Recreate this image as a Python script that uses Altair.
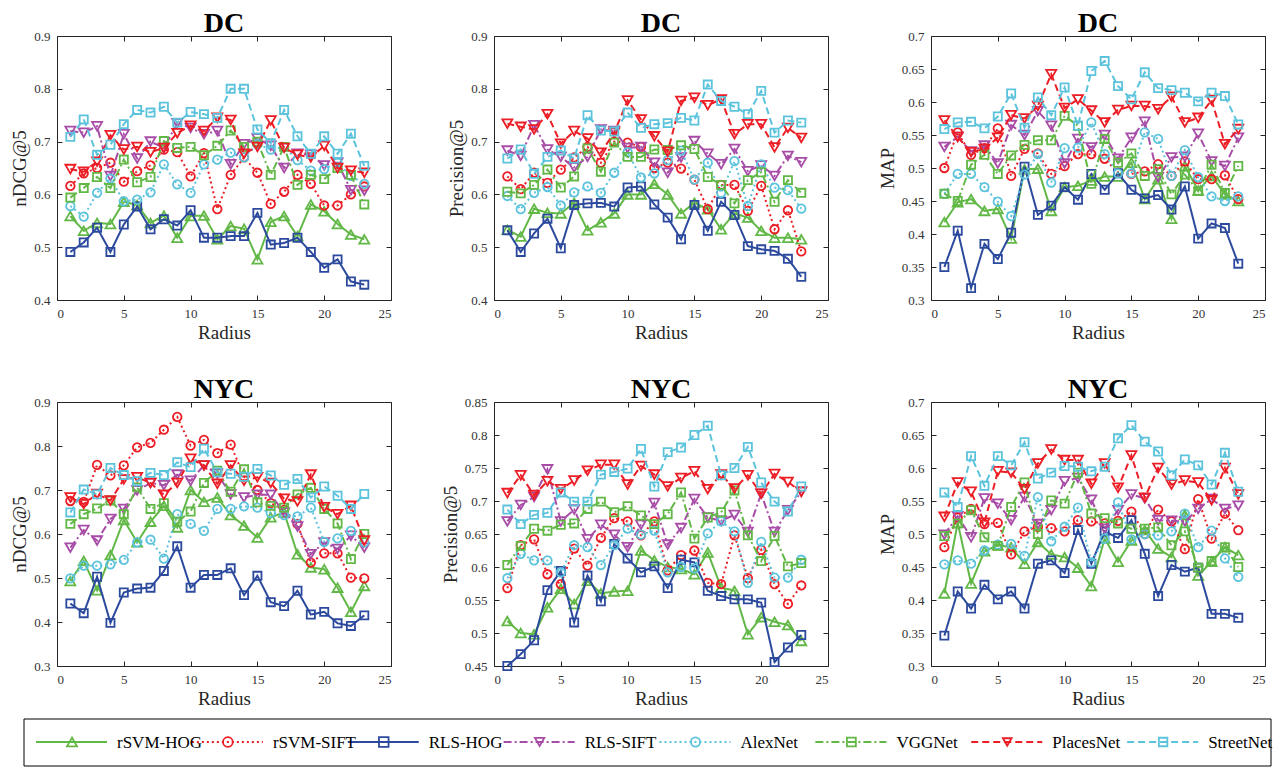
import altair as alt
import pandas as pd

RADIUS = list(range(1, 24))
SERIES = ["rSVM-HOG", "rSVM-SIFT", "RLS-HOG", "RLS-SIFT", "AlexNet", "VGGNet", "PlacesNet", "StreetNet"]
X_TICKS = [0, 5, 10, 15, 20, 25]
Y_TICKS_A = [0.4, 0.5, 0.6, 0.7, 0.8, 0.9]
Y_TICKS_MAP = [0.3, 0.35, 0.4, 0.45, 0.5, 0.55, 0.6, 0.65, 0.7]
Y_TICKS_NDCG_NYC = [0.3, 0.4, 0.5, 0.6, 0.7, 0.8, 0.9]
Y_TICKS_P_NYC = [0.45, 0.5, 0.55, 0.6, 0.65, 0.7, 0.75, 0.8, 0.85]

# ---- DC nDCG@5 ----
dc_ndcg_rsvm_hog = [0.559,0.531,0.546,0.544,0.586,0.58,0.546,0.56,0.518,0.559,0.56,0.515,0.54,0.535,0.477,0.548,0.559,0.521,0.581,0.568,0.544,0.524,0.515]
dc_ndcg_rsvm_sift = [0.616,0.64,0.65,0.66,0.624,0.644,0.655,0.685,0.68,0.634,0.678,0.572,0.637,0.67,0.641,0.582,0.605,0.637,0.62,0.579,0.579,0.6,0.615]
dc_ndcg_rls_hog = [0.491,0.509,0.537,0.491,0.543,0.577,0.534,0.553,0.541,0.57,0.518,0.518,0.521,0.521,0.565,0.505,0.508,0.518,0.491,0.461,0.477,0.435,0.429]
dc_ndcg_rls_sift = [0.72,0.717,0.729,0.635,0.714,0.668,0.7,0.688,0.735,0.726,0.714,0.72,0.657,0.695,0.706,0.692,0.65,0.677,0.675,0.655,0.66,0.608,0.607]
dc_ndcg_alexnet = [0.578,0.558,0.603,0.63,0.587,0.59,0.604,0.657,0.619,0.603,0.657,0.666,0.679,0.67,0.695,0.685,0.69,0.665,0.645,0.648,0.66,0.635,0.62]
dc_ndcg_vggnet = [0.594,0.612,0.633,0.612,0.666,0.623,0.633,0.701,0.688,0.69,0.674,0.692,0.721,0.69,0.7,0.637,0.69,0.618,0.637,0.629,0.65,0.637,0.581]
dc_ndcg_placesnet = [0.648,0.643,0.662,0.712,0.685,0.69,0.68,0.688,0.716,0.73,0.72,0.745,0.741,0.677,0.69,0.74,0.688,0.675,0.67,0.692,0.65,0.645,0.641]
dc_ndcg_streetnet = [0.709,0.742,0.675,0.694,0.733,0.76,0.755,0.766,0.736,0.756,0.752,0.745,0.8,0.8,0.723,0.697,0.76,0.71,0.677,0.71,0.677,0.715,0.654]

# ---- DC Precision@5 ----
dc_p_rsvm_hog = [0.533,0.52,0.573,0.565,0.564,0.584,0.532,0.547,0.564,0.6,0.6,0.62,0.6,0.564,0.584,0.572,0.534,0.564,0.556,0.531,0.518,0.518,0.515]
dc_p_rsvm_sift = [0.634,0.61,0.641,0.622,0.647,0.67,0.69,0.66,0.7,0.698,0.69,0.65,0.66,0.649,0.628,0.572,0.618,0.618,0.569,0.616,0.534,0.57,0.492]
dc_p_rls_hog = [0.532,0.491,0.526,0.554,0.498,0.58,0.583,0.584,0.577,0.613,0.615,0.581,0.556,0.515,0.58,0.531,0.586,0.561,0.502,0.496,0.493,0.478,0.444]
dc_p_rls_sift = [0.683,0.673,0.731,0.685,0.671,0.651,0.671,0.723,0.72,0.688,0.69,0.66,0.641,0.67,0.701,0.677,0.657,0.686,0.644,0.655,0.635,0.673,0.661]
dc_p_alexnet = [0.597,0.572,0.603,0.614,0.579,0.604,0.615,0.603,0.641,0.68,0.632,0.64,0.665,0.683,0.628,0.66,0.603,0.663,0.578,0.657,0.613,0.608,0.573]
dc_p_vggnet = [0.605,0.602,0.618,0.647,0.613,0.634,0.687,0.643,0.698,0.671,0.671,0.685,0.684,0.693,0.686,0.633,0.618,0.583,0.627,0.642,0.586,0.627,0.603]
dc_p_placesnet = [0.734,0.728,0.723,0.752,0.696,0.72,0.706,0.679,0.717,0.778,0.742,0.71,0.681,0.777,0.783,0.769,0.78,0.714,0.733,0.733,0.689,0.726,0.707]
dc_p_streetnet = [0.668,0.685,0.639,0.671,0.683,0.668,0.75,0.721,0.719,0.755,0.726,0.733,0.735,0.745,0.74,0.808,0.777,0.766,0.752,0.796,0.717,0.74,0.736]

# ---- DC MAP ----
dc_map_rsvm_hog = [0.418,0.448,0.453,0.435,0.438,0.393,0.498,0.499,0.435,0.471,0.473,0.481,0.487,0.487,0.508,0.453,0.483,0.423,0.503,0.466,0.488,0.46,0.45]
dc_map_rsvm_sift = [0.5,0.554,0.52,0.53,0.56,0.488,0.529,0.522,0.491,0.503,0.521,0.521,0.514,0.493,0.491,0.495,0.506,0.488,0.51,0.483,0.483,0.489,0.453]
dc_map_rls_hog = [0.35,0.405,0.318,0.385,0.362,0.402,0.502,0.429,0.443,0.471,0.452,0.491,0.467,0.492,0.467,0.454,0.459,0.437,0.472,0.393,0.416,0.409,0.355]
dc_map_rls_sift = [0.532,0.547,0.525,0.534,0.507,0.565,0.55,0.586,0.564,0.507,0.544,0.531,0.55,0.514,0.546,0.57,0.486,0.516,0.517,0.552,0.51,0.503,0.546]
dc_map_alexnet = [0.461,0.491,0.491,0.471,0.449,0.427,0.49,0.521,0.478,0.53,0.531,0.569,0.521,0.492,0.492,0.554,0.544,0.488,0.527,0.486,0.457,0.45,0.457]
dc_map_vggnet = [0.461,0.45,0.505,0.52,0.491,0.519,0.535,0.542,0.542,0.579,0.564,0.476,0.544,0.508,0.522,0.488,0.498,0.46,0.49,0.465,0.505,0.462,0.503]
dc_map_placesnet = [0.572,0.547,0.524,0.529,0.546,0.58,0.575,0.594,0.642,0.591,0.604,0.587,0.569,0.588,0.594,0.594,0.589,0.608,0.569,0.576,0.603,0.536,0.559]
dc_map_streetnet = [0.559,0.569,0.57,0.56,0.578,0.613,0.561,0.607,0.58,0.622,0.564,0.647,0.662,0.624,0.604,0.645,0.621,0.618,0.614,0.601,0.614,0.609,0.566]

# ---- NYC nDCG@5 ----
nyc_ndcg_rsvm_hog = [0.493,0.539,0.472,0.552,0.632,0.581,0.628,0.664,0.615,0.7,0.673,0.683,0.643,0.619,0.592,0.638,0.649,0.554,0.524,0.52,0.478,0.423,0.482]
nyc_ndcg_rsvm_sift = [0.675,0.673,0.757,0.733,0.756,0.797,0.807,0.837,0.866,0.801,0.814,0.784,0.803,0.73,0.7,0.67,0.655,0.623,0.535,0.556,0.556,0.501,0.499]
nyc_ndcg_rls_hog = [0.442,0.42,0.503,0.398,0.467,0.476,0.478,0.516,0.572,0.478,0.507,0.507,0.522,0.461,0.505,0.445,0.436,0.471,0.417,0.423,0.397,0.391,0.415]
nyc_ndcg_rls_sift = [0.569,0.609,0.585,0.634,0.657,0.699,0.716,0.711,0.735,0.721,0.756,0.737,0.69,0.683,0.689,0.689,0.649,0.617,0.554,0.581,0.566,0.596,0.569]
nyc_ndcg_alexnet = [0.499,0.528,0.528,0.531,0.541,0.581,0.587,0.544,0.645,0.623,0.607,0.657,0.657,0.663,0.66,0.648,0.643,0.64,0.66,0.582,0.59,0.607,0.581]
nyc_ndcg_vggnet = [0.623,0.645,0.658,0.676,0.645,0.706,0.657,0.67,0.628,0.651,0.716,0.744,0.696,0.747,0.672,0.664,0.66,0.69,0.705,0.657,0.624,0.543,0.6]
nyc_ndcg_placesnet = [0.683,0.668,0.691,0.676,0.724,0.729,0.716,0.689,0.716,0.771,0.756,0.714,0.756,0.721,0.729,0.716,0.68,0.674,0.735,0.661,0.645,0.664,0.585]
nyc_ndcg_streetnet = [0.649,0.701,0.69,0.75,0.734,0.72,0.739,0.734,0.763,0.752,0.794,0.74,0.737,0.73,0.748,0.733,0.712,0.725,0.683,0.708,0.687,0.657,0.691]

# ---- NYC Precision@5 ----
nyc_p_rsvm_hog = [0.518,0.5,0.498,0.539,0.567,0.544,0.579,0.56,0.563,0.564,0.625,0.61,0.6,0.597,0.589,0.622,0.569,0.564,0.498,0.524,0.517,0.512,0.488]
nyc_p_rsvm_sift = [0.568,0.633,0.642,0.589,0.574,0.628,0.602,0.644,0.674,0.669,0.648,0.669,0.595,0.618,0.625,0.576,0.574,0.648,0.583,0.626,0.574,0.544,0.572]
nyc_p_rls_hog = [0.45,0.468,0.489,0.565,0.594,0.516,0.587,0.548,0.635,0.613,0.592,0.601,0.568,0.611,0.607,0.564,0.556,0.551,0.551,0.546,0.456,0.478,0.497]
nyc_p_rls_sift = [0.669,0.694,0.706,0.748,0.669,0.687,0.642,0.664,0.649,0.63,0.664,0.697,0.634,0.659,0.703,0.675,0.67,0.679,0.653,0.711,0.653,0.686,0.714]
nyc_p_alexnet = [0.583,0.62,0.61,0.61,0.592,0.633,0.63,0.603,0.633,0.658,0.649,0.655,0.592,0.6,0.598,0.651,0.669,0.654,0.576,0.638,0.584,0.584,0.611]
nyc_p_vggnet = [0.603,0.632,0.658,0.655,0.664,0.666,0.688,0.699,0.683,0.692,0.678,0.665,0.68,0.713,0.643,0.675,0.683,0.716,0.648,0.609,0.647,0.601,0.606]
nyc_p_placesnet = [0.712,0.739,0.709,0.73,0.718,0.731,0.746,0.755,0.755,0.725,0.753,0.74,0.722,0.735,0.745,0.718,0.74,0.719,0.739,0.711,0.741,0.729,0.714]
nyc_p_streetnet = [0.687,0.665,0.679,0.682,0.713,0.699,0.699,0.74,0.744,0.749,0.779,0.722,0.774,0.781,0.8,0.814,0.739,0.75,0.782,0.728,0.699,0.684,0.722]

# ---- NYC MAP ----
nyc_map_rsvm_hog = [0.41,0.517,0.425,0.474,0.483,0.48,0.455,0.488,0.469,0.465,0.449,0.421,0.493,0.458,0.49,0.506,0.478,0.465,0.529,0.437,0.458,0.48,0.468]
nyc_map_rsvm_sift = [0.48,0.525,0.538,0.515,0.517,0.469,0.504,0.511,0.509,0.504,0.521,0.519,0.516,0.52,0.534,0.5,0.537,0.519,0.477,0.553,0.493,0.531,0.506]
nyc_map_rls_hog = [0.346,0.413,0.387,0.423,0.401,0.413,0.387,0.455,0.46,0.441,0.506,0.455,0.504,0.494,0.521,0.47,0.406,0.453,0.443,0.449,0.379,0.379,0.373]
nyc_map_rls_sift = [0.499,0.527,0.495,0.554,0.546,0.521,0.556,0.515,0.536,0.58,0.585,0.552,0.508,0.536,0.56,0.554,0.521,0.52,0.519,0.538,0.553,0.538,0.543]
nyc_map_alexnet = [0.454,0.46,0.455,0.475,0.484,0.485,0.467,0.556,0.489,0.511,0.54,0.457,0.493,0.548,0.492,0.5,0.498,0.504,0.531,0.48,0.505,0.463,0.435]
nyc_map_vggnet = [0.497,0.516,0.536,0.495,0.482,0.541,0.578,0.5,0.551,0.546,0.593,0.531,0.524,0.516,0.508,0.508,0.51,0.483,0.504,0.449,0.459,0.48,0.45]
nyc_map_placesnet = [0.526,0.578,0.564,0.517,0.595,0.593,0.568,0.607,0.628,0.612,0.612,0.576,0.607,0.57,0.619,0.555,0.6,0.575,0.581,0.578,0.551,0.6,0.56]
nyc_map_streetnet = [0.563,0.541,0.618,0.573,0.618,0.604,0.639,0.584,0.593,0.603,0.602,0.595,0.602,0.645,0.665,0.64,0.625,0.589,0.613,0.604,0.575,0.623,0.564]

SERIF = "Liberation Serif"
GREEN = "#62B846"
RED = "#EC1D25"
BLUE = "#2C4A9D"
MAGENTA = "#A84DA7"
CYAN = "#5CC3DC"
FRAME = "#262626"

COLORS = [GREEN, RED, BLUE, MAGENTA, CYAN, GREEN, RED, CYAN]
DASHES = [[1, 0], [2, 3], [1, 0], [8, 3, 2, 3], [2, 3], [8, 3, 2, 3], [7, 4], [7, 4]]
SHAPES = ["triangle-up", "circle", "square", "triangle-down", "circle", "square", "triangle-down", "square"]
SIZES = [100, 72, 66, 100, 72, 66, 100, 66]

W, H = 334, 264


def tick_axis(orient, offset, values):
    return alt.Axis(orient=orient, offset=offset, values=values, labels=False, domain=False,
                    tickSize=5, title=None, grid=False, minExtent=0, maxExtent=0)


def legend_layers():
    leg_df = pd.DataFrame({"idx": list(range(len(SERIES))), "name": SERIES})
    box_df = pd.DataFrame({"lo": [0], "hi": [len(SERIES)]})
    lscale = alt.Scale(domain=[0, 8], range=[-33, 1214], nice=False)
    lx = alt.X("idx:Q", scale=lscale, axis=None)
    lcolor = alt.Color("name:N", scale=alt.Scale(domain=SERIES, range=COLORS), legend=None)
    ldash = alt.StrokeDash("name:N", scale=alt.Scale(domain=SERIES, range=DASHES), legend=None)
    lshape = alt.Shape("name:N", scale=alt.Scale(domain=SERIES, range=SHAPES), legend=None)
    lsize = alt.Size("name:N", scale=alt.Scale(domain=SERIES, range=SIZES), legend=None)
    ymid = H + 76
    box = alt.Chart(box_df).mark_rect(fillOpacity=0, stroke="black", strokeWidth=1).encode(
        x=alt.X("lo:Q", scale=lscale, axis=None), x2="hi:Q", y=alt.value(H + 53), y2=alt.value(H + 100))
    rule = alt.Chart(leg_df).mark_rule(strokeWidth=2, xOffset=12, x2Offset=83).encode(
        x=lx, x2="idx:Q", y=alt.value(ymid), color=lcolor, strokeDash=ldash)
    pts = alt.Chart(leg_df).mark_point(filled=False, strokeWidth=1.8, xOffset=48, opacity=1).encode(
        x=lx, y=alt.value(ymid), color=lcolor, shape=lshape, size=lsize)
    txt = alt.Chart(leg_df).mark_text(align="left", baseline="middle", dx=93, font=SERIF, fontSize=17,
                                      color="black").encode(x=lx, y=alt.value(ymid + 0.5), text="name:N")
    return [box, rule, pts, txt]


def panel(title, ytitle, ydom, yticks, values, extra=None):
    xs = alt.Scale(domain=[0, 25], nice=False)
    ys = alt.Scale(domain=ydom, nice=False)
    layers = []
    for k, vals in enumerate(values):
        df = pd.DataFrame({"Radius": RADIUS, "v": vals})
        if k == 0:
            xa = alt.Axis(values=X_TICKS, title="Radius", grid=False, domain=False, ticks=False,
                          labelPadding=7, titlePadding=3)
            ya = alt.Axis(values=yticks, format=".2~f", title=ytitle, grid=False, domain=False,
                          ticks=False, labelPadding=7, titlePadding=4)
            enc_line = dict(x=alt.X("Radius:Q", scale=xs, axis=xa), y=alt.Y("v:Q", scale=ys, axis=ya))
        else:
            enc_line = dict(x=alt.X("Radius:Q", scale=xs, axis=None), y=alt.Y("v:Q", scale=ys, axis=None))
        enc_pt = dict(x=alt.X("Radius:Q", scale=xs, axis=None), y=alt.Y("v:Q", scale=ys, axis=None))
        layers.append(alt.Chart(df).mark_line(color=COLORS[k], strokeDash=DASHES[k], strokeWidth=2)
                      .encode(**enc_line))
        layers.append(alt.Chart(df).mark_point(shape=SHAPES[k], color=COLORS[k], filled=False,
                                               size=SIZES[k], strokeWidth=1.8, opacity=1)
                      .encode(**enc_pt))
    df0 = pd.DataFrame({"Radius": RADIUS, "v": values[0]})
    tick_a = alt.Chart(df0).mark_point(opacity=0).encode(
        x=alt.X("Radius:Q", scale=xs, axis=tick_axis("top", -H, X_TICKS)),
        y=alt.Y("v:Q", scale=ys, axis=tick_axis("right", -W, yticks)))
    tick_b = alt.Chart(df0).mark_point(opacity=0).encode(
        x=alt.X("Radius:Q", scale=xs, axis=tick_axis("bottom", -H, X_TICKS)),
        y=alt.Y("v:Q", scale=ys, axis=tick_axis("left", -W, yticks)))
    layers += [tick_a, tick_b]
    ch = alt.layer(*layers, *(extra or []))
    if extra:
        ch = ch.resolve_scale(x="independent")
    return (ch.resolve_axis(x="independent", y="independent")
            .properties(width=W, height=H,
                        title=alt.TitleParams(title, font=SERIF, fontSize=28, fontWeight="bold",
                                              color="black", anchor="middle", frame="group", offset=-8)))


p1 = panel("DC", "nDCG@5", [0.4, 0.9], Y_TICKS_A,
           [dc_ndcg_rsvm_hog, dc_ndcg_rsvm_sift, dc_ndcg_rls_hog, dc_ndcg_rls_sift,
            dc_ndcg_alexnet, dc_ndcg_vggnet, dc_ndcg_placesnet, dc_ndcg_streetnet])
p2 = panel("DC", "Precision@5", [0.4, 0.9], Y_TICKS_A,
           [dc_p_rsvm_hog, dc_p_rsvm_sift, dc_p_rls_hog, dc_p_rls_sift,
            dc_p_alexnet, dc_p_vggnet, dc_p_placesnet, dc_p_streetnet])
p3 = panel("DC", "MAP", [0.3, 0.7], Y_TICKS_MAP,
           [dc_map_rsvm_hog, dc_map_rsvm_sift, dc_map_rls_hog, dc_map_rls_sift,
            dc_map_alexnet, dc_map_vggnet, dc_map_placesnet, dc_map_streetnet])
p4 = panel("NYC", "nDCG@5", [0.3, 0.9], Y_TICKS_NDCG_NYC,
           [nyc_ndcg_rsvm_hog, nyc_ndcg_rsvm_sift, nyc_ndcg_rls_hog, nyc_ndcg_rls_sift,
            nyc_ndcg_alexnet, nyc_ndcg_vggnet, nyc_ndcg_placesnet, nyc_ndcg_streetnet],
           extra=legend_layers())
p5 = panel("NYC", "Precision@5", [0.45, 0.85], Y_TICKS_P_NYC,
           [nyc_p_rsvm_hog, nyc_p_rsvm_sift, nyc_p_rls_hog, nyc_p_rls_sift,
            nyc_p_alexnet, nyc_p_vggnet, nyc_p_placesnet, nyc_p_streetnet])
p6 = panel("NYC", "MAP", [0.3, 0.7], Y_TICKS_MAP,
           [nyc_map_rsvm_hog, nyc_map_rsvm_sift, nyc_map_rls_hog, nyc_map_rls_sift,
            nyc_map_alexnet, nyc_map_vggnet, nyc_map_placesnet, nyc_map_streetnet])

chart = (alt.concat(p1, p2, p3, p4, p5, p6, columns=3, spacing={"row": 102, "column": 103}, bounds="flush")
         .properties(padding={"left": 2, "top": 1, "right": 5, "bottom": 0})
         .configure_view(stroke=FRAME, strokeWidth=1)
         .configure_axis(labelFont=SERIF, labelFontSize=13, labelColor="#333333",
                         titleFont=SERIF, titleFontSize=19, titleFontWeight="normal", titleColor="#262626",
                         tickColor=FRAME, tickWidth=1))

chart.save("out.html", embed_options={"renderer": "svg", "actions": False})
